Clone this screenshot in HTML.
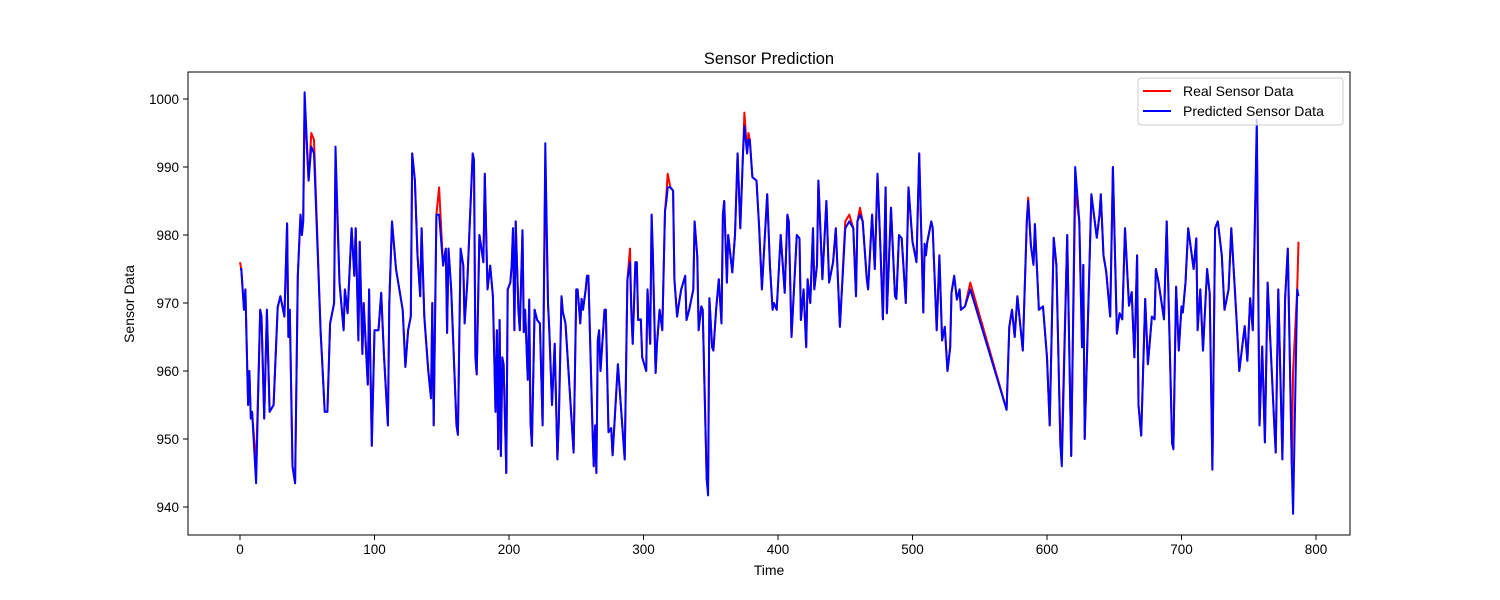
<!DOCTYPE html>
<html>
<head>
<meta charset="utf-8">
<style>
  html,body{margin:0;padding:0;background:#fff;}
  svg{display:block;font-family:"Liberation Sans","DejaVu Sans",sans-serif;}
</style>
</head>
<body>
<svg id="chart" width="1500" height="600" viewBox="0 0 1500 600" xmlns="http://www.w3.org/2000/svg">
  <rect x="0" y="0" width="1500" height="600" fill="#fff"/>
  <text x="769" y="64" font-size="16.5" text-anchor="middle" fill="#000">Sensor Prediction</text>
  <text x="769" y="575" font-size="14" text-anchor="middle" fill="#000">Time</text>
  <text x="134" y="304" font-size="14" text-anchor="middle" fill="#000" transform="rotate(-90 134 304)">Sensor Data</text>
  <g id="ticks"></g>
  <g id="series"></g>
  <rect x="188" y="72" width="1162" height="463" fill="none" stroke="#000" stroke-width="1"/>
  <g>
    <rect x="1138" y="78" width="205" height="47" rx="3" fill="#fff" fill-opacity="0.8" stroke="#ccc" stroke-width="1"/>
    <g>
      <line x1="1143" y1="91" x2="1171" y2="91" stroke="#ff0000" stroke-width="2"/>
      <text x="1183" y="96" font-size="14" fill="#000">Real Sensor Data</text>
    </g>
    <g>
      <line x1="1143" y1="111" x2="1171" y2="111" stroke="#0000ff" stroke-width="2"/>
      <text x="1183" y="116" font-size="14" fill="#000">Predicted Sensor Data</text>
    </g>
  </g>
</svg>
<script>
const times = [0,1,3,4,6,7,8,9,12,15,16,18,20,22,25,28,30,33,35,36,37,39,41,43,45,46,47,48,51,53,55,60,61,63,65,67,69,70,71,74,77,78,80,83,85,86,88,89,91,92,94,95,96,98,100,101,103,105,107,110,111,113,116,121,123,125,127,128,130,132,134,135,137,140,142,143,144,146,148,151,153,154,155,157,161,162,164,166,167,169,173,174,175,176,178,181,182,184,186,188,190,191,192,193,194,195,196,198,199,201,202,203,204,205,207,208,210,211,212,214,215,216,217,219,221,223,225,227,229,230,232,234,236,237,239,240,242,248,250,251,253,254,255,257,258,259,262,263,264,265,266,267,268,271,272,274,276,277,281,286,288,290,291,292,294,295,296,298,299,302,303,305,306,307,309,310,312,314,316,317,318,320,322,323,325,326,328,331,332,334,337,338,340,341,343,344,347,348,349,351,352,354,356,358,359,360,362,363,366,368,370,372,374,375,377,378,379,381,384,386,388,392,394,396,397,399,402,405,407,408,410,414,416,417,419,421,422,424,426,427,429,430,433,436,438,441,443,446,450,453,456,458,459,461,463,466,467,470,472,474,476,478,480,481,484,487,488,490,492,495,497,500,503,505,508,509,510,511,514,515,518,520,522,524,526,528,529,531,533,535,536,539,543,570,572,574,576,578,582,585,586,588,590,591,594,597,600,602,605,607,610,611,615,618,621,624,626,627,628,633,637,639,640,642,644,647,649,652,654,656,658,661,663,665,667,668,670,673,675,678,680,681,683,687,689,693,694,696,698,700,701,703,705,709,711,712,714,716,719,721,723,725,727,730,732,735,737,741,743,747,749,751,753,756,758,760,762,764,769,770,772,775,777,779,782,783,786,787];
const realValues = [976,975,969,972,955,960,953,954,946,969,968,953,969,954,955,969.4,971,968,981.7,965,969,946,943.5,974,983,980,982,999,988,995,994,965.5,962,954,954,967,969,970,990,973,966,972,968.5,981,974,981,964.5,979,962.5,970,962,958,972,949,966,966,966,971.5,962.5,952,970,982,975,969,960.6,966,968,992,988,977,971,981,968,960,956,970,952,983,987,975.5,978,965.6,978,972,952,950.6,978,975.5,967,973,992,991,962,959.5,980,976,989,972,975.5,971,954,966,948.5,967.5,947.5,962,961,945,972,973,975.5,981,966,982,969,966,980.7,965.7,969,958.7,970.5,952.5,949,969,967.5,967,952,990,970,966,955,964,947,952.5,971,968.7,967,948,972,972,967,970.6,969,972,974,974,952,946,952,945,964.5,966,960,969,969,951,951.6,947.6,961,947,973.4,978,968.5,964,976,976,967.5,967.6,962,960,972,964,983,977,959.7,964,969,966,983.5,986,989,987,986.5,973.5,968,969.5,972,974,967.5,969,972,982,976.8,966,969.5,969,944,944,970.7,963.5,963,969,973.5,967,983,985,973,980,974.5,980,992,981,992,998,992,995,994,988.5,988,981,972,986,975.6,969,970,969,980,971.5,983,982,965,980,979.5,967.5,972,963.5,973.5,970,981,972,975.6,988,973.5,985,973,976,981,966.5,982,983,981,971,982,984,982,973.5,972,983,975,989,979,967.6,987,968.5,984,971,970.6,980,979.5,970,987,979,976,992,968.6,978.7,977,979,982,981,966,977,964.5,966.5,960,963.5,971.5,974,970.5,972,969,969.5,973,954.3,966.5,969,965,971,963,982,985.5,978.5,975.6,981.6,969,969.5,962,952,979.6,975.6,949,949,980,947.5,986.6,982,963.5,975.6,950,986,979.6,983,986,977,974.6,968,990,965.5,968.5,967.6,981,969.6,971.6,962,977,955,950.5,970.6,961,968,967.6,975,973,967.6,982,949.4,948.5,972.4,963,969.5,968.6,973,981,975,979.5,966,972,963,975,971.4,945.5,981,982,977,969,972,981,967.5,960,966.6,961.5,970.7,966,995,952,963.6,949.5,973,952,948,972,947,970.6,978,946,960,972,979];
const predValues = [975,975,969,972,955,960,953,954,943.5,969,968,953,969,954,955,969.4,971,968,981.7,965,969,946,943.5,974,983,980,982,1001,988,993,992,965.5,962,954,954,967,969,970,993,973,966,972,968.5,981,974,981,964.5,979,962.5,970,962,958,972,949,966,966,966,971.5,962.5,952,970,982,975,969,960.6,966,968,992,988,977,971,981,968,960,956,970,952,983,983,975.5,978,965.6,978,972,952,950.6,978,975.5,967,973,992,991,962,959.5,980,976,989,972,975.5,971,954,966,948.5,967.5,947.5,962,961,945,972,973,975.5,981,966,982,969,966,980.7,965.7,969,958.7,970.5,952.5,949,969,967.5,967,952,993.5,970,966,955,964,947,952.5,971,968.7,967,948,972,972,967,970.6,969,972,974,974,952,946,952,945,964.5,966,960,969,969,951,951.6,947.6,961,947,973.4,976,968.5,964,976,976,967.5,967.6,962,960,972,964,983,977,959.7,964,969,966,983.5,985,987,987,986.5,973.5,968,969.5,972,974,967.5,969,972,982,976.8,966,969.5,969,944,941.7,970.7,963.5,963,969,973.5,967,983,985,973,980,974.5,980,992,981,992,996,992,994,994,988.5,988,981,972,986,975.6,969,970,969,980,971.5,983,982,965,980,979.5,967.5,972,963.5,973.5,970,981,972,975.6,988,973.5,985,973,976,981,966.5,981,982,981,971,982,983,982,973.5,972,983,975,989,979,967.6,987,968.5,984,971,970.6,980,979.5,970,987,979,976,992,968.6,978.7,977,979,982,981,966,977,964.5,966.5,960,963.5,971.5,974,970.5,972,969,969.5,972,954.3,966.5,969,965,971,963,982,985,978.5,975.6,981.6,969,969.5,962,952,979.6,975.6,949,946,980,947.5,990,982,963.5,975.6,950,986,979.6,983,986,977,974.6,968,990,965.5,968.5,967.6,981,969.6,971.6,962,977,955,950.5,970.6,961,968,967.6,975,973,967.6,982,949.4,948.5,972.4,963,969.5,968.6,973,981,975,979.5,966,972,963,975,971.4,945.5,981,982,977,969,972,981,967.5,960,966.6,961.5,970.7,966,997,952,963.6,949.5,973,952,948,972,947,970.6,978,946,939,972,971];
const xTicks = [0,100,200,300,400,500,600,700,800];
const yTicks = [940,950,960,970,980,990,1000];

const xScale = t => 240 + t * 1.345;
const yScale = v => 99 + (1000 - v) * 6.8;
const NS = 'http://www.w3.org/2000/svg';
const tickG = document.getElementById('ticks');
const seriesG = document.getElementById('series');

xTicks.forEach(t => {
  const x = xScale(t);
  const ln = document.createElementNS(NS, 'line');
  ln.setAttribute('x1', x); ln.setAttribute('x2', x);
  ln.setAttribute('y1', 535); ln.setAttribute('y2', 540);
  ln.setAttribute('stroke', '#000');
  
  
  tickG.appendChild(ln);
  const tx = document.createElementNS(NS, 'text');
  tx.setAttribute('x', x); tx.setAttribute('y', 554);
  tx.setAttribute('font-size', '13.5');
  tx.setAttribute('text-anchor', 'middle');
  tx.textContent = t;
  
  
  tickG.appendChild(tx);
});
yTicks.forEach(v => {
  const y = yScale(v);
  const ln = document.createElementNS(NS, 'line');
  ln.setAttribute('x1', 183); ln.setAttribute('x2', 188);
  ln.setAttribute('y1', y); ln.setAttribute('y2', y);
  ln.setAttribute('stroke', '#000');
  
  
  tickG.appendChild(ln);
  const tx = document.createElementNS(NS, 'text');
  tx.setAttribute('x', 179); tx.setAttribute('y', y + 5);
  tx.setAttribute('font-size', '13.5');
  tx.setAttribute('text-anchor', 'end');
  tx.textContent = v;
  
  
  tickG.appendChild(tx);
});

function drawLine(vals, color) {
  const d = vals.map((v, i) => (i ? 'L' : 'M') + xScale(times[i]).toFixed(1) + ',' + yScale(v).toFixed(1)).join('');
  const p = document.createElementNS(NS, 'path');
  p.setAttribute('d', d);
  p.setAttribute('fill', 'none');
  p.setAttribute('stroke', color);
  p.setAttribute('stroke-width', '2');
  p.setAttribute('stroke-linejoin', 'round');
  return p;
}
const realPath = drawLine(realValues, '#ff0000');


seriesG.appendChild(realPath);
const predPath = drawLine(predValues, '#0000ff');


seriesG.appendChild(predPath);
</script>
</body>
</html>
